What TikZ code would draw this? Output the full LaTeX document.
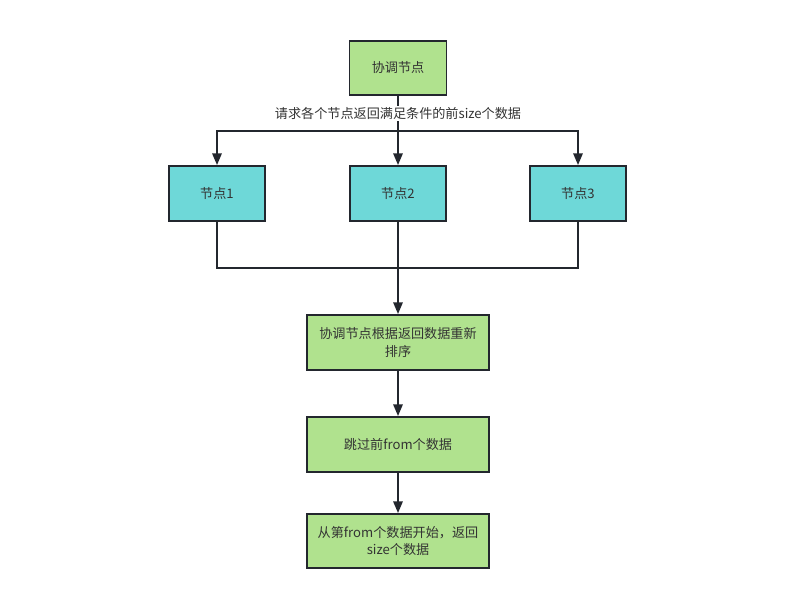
\documentclass[tikz,border=0pt]{standalone}
\usepackage{fontspec}
\setmainfont{Noto Sans CJK SC}
\usepackage{xcolor}
\usepackage{tikz}
\usetikzlibrary{arrows.meta, positioning, calc}

\definecolor{boxgreen}{HTML}{B0E28E}
\definecolor{boxcyan}{HTML}{6ED8D8}
\definecolor{edge}{HTML}{23272E}
\definecolor{txt}{HTML}{333333}

\tikzset{
  box/.style={draw=edge, line width=1.6pt, text=txt, align=center,
    font=\fontsize{11.2}{15}\selectfont, inner sep=2pt},
  greenbox/.style={box, fill=boxgreen},
  cyanbox/.style={box, fill=boxcyan, minimum width=2.88cm, minimum height=1.65cm},
  wire/.style={draw=edge, line width=1.6pt},
  flow/.style={wire, -{Triangle[length=10pt, width=8pt]}},
  lbl/.style={fill=white, text=txt, font=\fontsize{11.2}{13}\selectfont, inner sep=1pt}
}

\begin{document}
\begin{tikzpicture}[x=0.03cm, y=-0.03cm]
  \useasboundingbox (0,0) rectangle (791,607);

  % top node
  \node[greenbox, minimum width=2.91cm, minimum height=1.62cm] (coord) at (398,68) {协调节点};

  % data nodes
  \node[cyanbox] (node1) at (217,193.5) {节点1};
  \node[cyanbox] (node2) at (398,193.5) {节点2};
  \node[cyanbox] (node3) at (578,193.5) {节点3};

  % steps
  \node[greenbox, minimum width=5.46cm, minimum height=1.65cm] (resort) at (398,342.5) {协调节点根据返回数据重新\\排序};
  \node[greenbox, minimum width=5.46cm, minimum height=1.65cm] (skip) at (398,444.5) {跳过前from个数据};
  \node[greenbox, minimum width=5.46cm, minimum height=1.62cm] (ret) at (398,541) {从第from个数据开始，返回\\size个数据};

  \coordinate (split) at (398,131);
  \coordinate (merge) at (398,268);

  % fan out
  \draw[flow] (coord) -- node[lbl, pos=0.25] {请求各个节点返回满足条件的前size个数据} (node2);
  \draw[flow] (split) -| (node1);
  \draw[flow] (split) -| (node3);

  % fan in
  \draw[wire] (node1) |- (merge);
  \draw[wire] (node3) |- (merge);
  \draw[flow] (node2) -- (resort);

  \draw[flow] (resort) -- (skip);
  \draw[flow] (skip) -- (ret);
\end{tikzpicture}
\end{document}
